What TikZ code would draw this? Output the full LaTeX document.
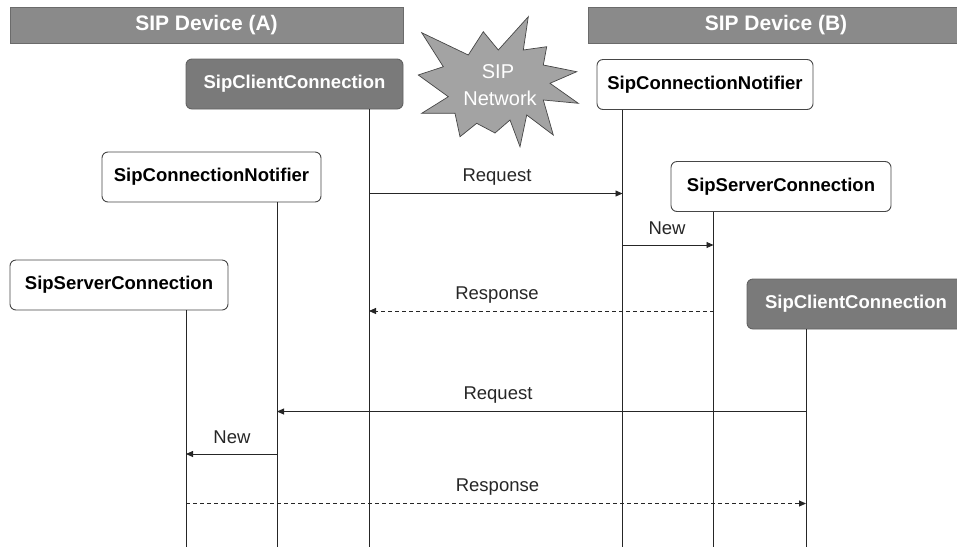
\documentclass[tikz,border=0pt]{standalone}
\usepackage{fontspec}
\setmainfont{Liberation Sans}
\usetikzlibrary{arrows.meta}
\definecolor{hdrgray}{RGB}{138,138,138}
\definecolor{darkbox}{RGB}{122,122,122}
\definecolor{stargray}{RGB}{163,163,163}
\definecolor{edgegray}{RGB}{70,70,70}
\begin{document}
\begin{tikzpicture}[x=1pt,y=-1pt,
  header/.style={draw=edgegray!80, line width=0.8pt, fill=hdrgray, text=white,
    font=\fontsize{21}{24}\selectfont\bfseries, inner sep=0pt, anchor=center},
  lightbox/.style={draw=edgegray, line width=0.9pt, fill=white, rounded corners=6pt,
    font=\fontsize{18.5}{22}\selectfont\bfseries, inner sep=0pt,
    minimum height=50pt},
  darkbox/.style={lightbox, draw=darkbox!80!black, fill=darkbox, text=white},
  lifeline/.style={draw=black!85, line width=0.9pt},
  msg/.style={draw=black!85, line width=0.9pt, -{Triangle[length=7pt,width=6pt]}},
  reply/.style={msg, dash pattern=on 4pt off 3pt},
  lbl/.style={font=\fontsize{18.5}{22}\selectfont, text=black!85, inner sep=0pt},
  startext/.style={font=\fontsize{20}{22}\selectfont, text=white, inner sep=0pt}
]
\useasboundingbox (0,0) rectangle (957,547);
\clip (0,0) rectangle (957,547);

% device headers
\node[header, minimum width=393pt, minimum height=36pt] (hdrA) at (206.5,25) {SIP Device (A)};
\node[header, minimum width=376pt, minimum height=36pt] (hdrB) at (776,25) {SIP Device (B)};

% network burst
\draw[fill=stargray, draw=edgegray, line width=0.7pt, line join=miter]
  (421.7,32.7) -- (468.3,55) -- (483.3,31.7) -- (498.3,50) -- (528.3,16.7)
  -- (523.3,50) -- (546.7,46.7) -- (543.3,65) -- (576.7,71.7) -- (550,83.3)
  -- (578.3,103.3) -- (543.3,100) -- (553.3,135) -- (526.7,115) -- (520,146.7)
  -- (510,120) -- (495,133) -- (476.7,123.3) -- (460,136.7) -- (455,113.3)
  -- (421.7,113.3) -- (448.3,96.7) -- (418.3,75) -- (443.3,66.7) -- cycle;
\node[startext] (net1) at (498,72) {SIP};
\node[startext] (net2) at (500,98) {Network};

% participants
\node[darkbox, minimum width=217pt] (ccA) at (294.5,84) {SipClientConnection};
\node[lightbox, minimum width=216pt] (cnB) at (705,84.5) {SipConnectionNotifier};
\node[lightbox, minimum width=219pt] (cnA) at (211.5,177) {SipConnectionNotifier};
\node[lightbox, minimum width=220pt] (scB) at (781,186.5) {SipServerConnection};
\node[lightbox, minimum width=218pt] (scA) at (119,285) {SipServerConnection};
\node[darkbox, minimum width=218pt] (ccB) at (856,304) {SipClientConnection};

% lifeline ends
\coordinate (ccAend) at (369,547);
\coordinate (cnBend) at (622.5,547);
\coordinate (cnAend) at (277,547);
\coordinate (scBend) at (713.5,547);
\coordinate (scAend) at (186,547);
\coordinate (ccBend) at (806,547);

\draw[lifeline] (ccA.south -| ccAend) -- (ccAend);
\draw[lifeline] (cnB.south -| cnBend) -- (cnBend);
\draw[lifeline] (cnA.south -| cnAend) -- (cnAend);
\draw[lifeline] (scB.south -| scBend) -- (scBend);
\draw[lifeline] (scA.south -| scAend) -- (scAend);
\draw[lifeline] (ccB.south -| ccBend) -- (ccBend);

% message rows
\coordinate (m1) at (0,193.5);
\coordinate (m2) at (0,245);
\coordinate (m3) at (0,311);
\coordinate (m4) at (0,411.5);
\coordinate (m5) at (0,454);
\coordinate (m6) at (0,503.5);

\draw[msg]   (ccAend |- m1) -- (cnBend |- m1);
\draw[msg]   (cnBend |- m2) -- (scBend |- m2);
\draw[reply] (scBend |- m3) -- (ccAend |- m3);
\draw[msg]   (ccBend |- m4) -- (cnAend |- m4);
\draw[msg]   (cnAend |- m5) -- (scAend |- m5);
\draw[reply] (scAend |- m6) -- (ccBend |- m6);

\node[lbl] (l1) at (497,177) {Request};
\node[lbl] (l2) at (667,228.5) {New};
\node[lbl] (l3) at (497,295) {Response};
\node[lbl] (l4) at (498,395) {Request};
\node[lbl] (l5) at (232,437.5) {New};
\node[lbl] (l6) at (497.5,487.5) {Response};
\end{tikzpicture}
\end{document}
